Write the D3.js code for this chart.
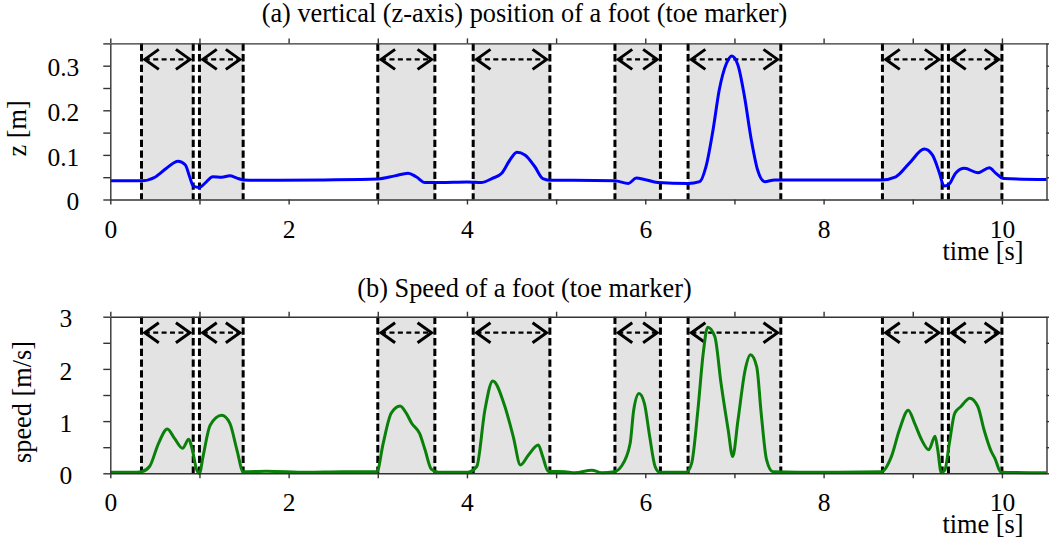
<!DOCTYPE html>
<html>
<head>
<meta charset="utf-8">
<script src="https://d3js.org/d3.v7.min.js"></script>
<style>
  body { margin: 0; background: #fff; }
  svg { display: block; font-family: 'Liberation Serif', 'Times New Roman', serif; }
</style>
</head>
<body>
<svg id="chart"></svg>
<script>
// stance / step intervals [s]
const segStart = [0.35, 1.0, 3.0, 4.07, 5.66, 6.48, 8.66, 9.40]
const segEnd = [0.93, 1.49, 3.64, 4.93, 6.17, 7.52, 9.33, 10.0]

// (a) z position of toe marker
const tTop = [0, 0.2, 0.35, 0.5, 0.63, 0.76, 0.84, 0.89, 0.93, 1.0, 1.06, 1.15, 1.25, 1.34, 1.42,
  1.49, 1.8, 2.4, 3.0, 3.19, 3.34, 3.43, 3.53, 3.7, 4.0, 4.16, 4.28, 4.39, 4.48, 4.56,
  4.65, 4.76, 4.85, 4.95, 5.2, 5.66, 5.81, 5.9, 5.99, 6.14, 6.48, 6.61, 6.68, 6.76, 6.83,
  6.91, 6.97, 7.04, 7.11, 7.19, 7.26, 7.34, 7.45, 8.0, 8.65, 8.81, 8.96, 9.13, 9.22, 9.3,
  9.35, 9.41, 9.48, 9.58, 9.73, 9.86, 9.93, 10.02, 10.5]
const zTop = [0.042, 0.042, 0.042, 0.05, 0.07, 0.086, 0.078, 0.051, 0.03, 0.027, 0.036, 0.051, 0.05, 0.053, 0.048,
  0.044, 0.043, 0.044, 0.046, 0.053, 0.059, 0.051, 0.038, 0.038, 0.039, 0.038, 0.047, 0.059, 0.088, 0.106,
  0.1, 0.074, 0.047, 0.043, 0.043, 0.042, 0.036, 0.048, 0.045, 0.038, 0.036, 0.04, 0.073, 0.156, 0.246,
  0.305, 0.322, 0.301, 0.234, 0.133, 0.066, 0.04, 0.044, 0.044, 0.044, 0.051, 0.081, 0.113, 0.1, 0.059,
  0.03, 0.035, 0.059, 0.07, 0.06, 0.071, 0.059, 0.047, 0.045]

// (b) speed of toe marker
const tBot = [0, 0.3, 0.35, 0.44, 0.54, 0.64, 0.72, 0.81, 0.88, 0.92, 0.97, 1.0, 1.04, 1.12, 1.25,
  1.34, 1.42, 1.49, 1.75, 2.2, 2.6, 2.99, 3.06, 3.15, 3.25, 3.32, 3.38, 3.47, 3.53, 3.6,
  3.68, 4.01, 4.11, 4.2, 4.29, 4.42, 4.52, 4.6, 4.69, 4.8, 4.85, 4.91, 5.1, 5.21, 5.4,
  5.51, 5.65, 5.73, 5.83, 5.87, 5.93, 5.99, 6.05, 6.11, 6.16, 6.46, 6.52, 6.59, 6.65, 6.7,
  6.78, 6.85, 6.93, 6.98, 7.04, 7.12, 7.18, 7.25, 7.3, 7.36, 7.43, 8.0, 8.65, 8.76, 8.85,
  8.95, 9.02, 9.1, 9.18, 9.25, 9.28, 9.32, 9.36, 9.41, 9.47, 9.54, 9.64, 9.73, 9.8, 9.88,
  9.92, 9.99, 10.5]
const vBot = [0.02, 0.02, 0.03, 0.13, 0.57, 0.85, 0.67, 0.48, 0.65, 0.45, 0.06, 0.0, 0.32, 0.92, 1.11,
  0.96, 0.45, 0.03, 0.04, 0.02, 0.03, 0.03, 0.57, 1.15, 1.29, 1.15, 0.96, 0.76, 0.45, 0.08,
  0.02, 0.02, 0.13, 1.2, 1.77, 1.31, 0.7, 0.16, 0.35, 0.54, 0.32, 0.04, 0.03, 0.01, 0.06,
  0.01, 0.03, 0.13, 0.57, 1.21, 1.53, 1.34, 0.7, 0.13, 0.02, 0.02, 0.19, 1.21, 2.3, 2.8,
  2.62, 1.72, 0.83, 0.32, 1.02, 1.98, 2.27, 2.04, 1.15, 0.26, 0.03, 0.02, 0.03, 0.32, 0.83,
  1.21, 0.96, 0.64, 0.45, 0.71, 0.45, 0.01, 0.06, 0.57, 1.15, 1.28, 1.44, 1.28, 0.83, 0.42,
  0.29, 0.02, 0.01]

// ticks
const xTicks = d3.range(0, 11, 1)
const xLabels = [0, 2, 4, 6, 8, 10]
const zTicks = [0, 0.05, 0.1, 0.15, 0.2, 0.25, 0.3, 0.35]
const zLabels = [0, 0.1, 0.2, 0.3]
const vTicks = [0, 0.5, 1, 1.5, 2, 2.5, 3]
const vLabels = [0, 1, 2, 3]

const w = 1049
const h = 549
const fontSize = 25.5
const titleSize = 26.3

const svg = d3.select('#chart')
  .attr('width', w)
  .attr('height', h)

const xScale = d3.scaleLinear()
  .domain([0, 10.5])
  .range([110.3, 1046.5])

const fmt = d => d === 0 ? '0' : String(d)

function drawPanel(p) {
  const g = svg.append('g')
  const y = d3.scaleLinear()
    .domain(p.yDomain)
    .range(p.yRange)
  const top = p.yRange[1]
  const bottom = p.yRange[0]

  // grey intervals
  g.selectAll('rect.seg')
    .data(segStart)
    .enter()
    .append('rect')
    .attr('class', 'seg')
    .attr('x', d => xScale(d))
    .attr('y', top)
    .attr('width', (d, i) => xScale(segEnd[i]) - xScale(d))
    .attr('height', bottom - top)
    .attr('fill', '#e3e3e3')

  // dashed boundaries
  const bounds = segStart.concat(segEnd)
  g.selectAll('line.bound')
    .data(bounds)
    .enter()
    .append('line')
    .attr('x1', d => xScale(d))
    .attr('x2', d => xScale(d))
    .attr('y1', top)
    .attr('y2', bottom)
    .attr('stroke', '#000')
    .attr('stroke-width', 3)
    .attr('stroke-dasharray', '7.3,3.4')

  // double arrows
  const ay = top + 16
  const inset = 3.3
  const aw = 14
  const ah = 10
  segStart.forEach((s, i) => {
    const x0 = xScale(s) + inset
    const x1 = xScale(segEnd[i]) - inset
    g.append('line')
      .attr('x1', x0).attr('x2', x1)
      .attr('y1', ay).attr('y2', ay)
      .attr('stroke', '#000')
      .attr('stroke-width', 2.2)
      .attr('stroke-dasharray', '5,3.4')
    g.append('path')
      .attr('d', `M${x0 + aw},${ay - ah}L${x0},${ay}L${x0 + aw},${ay + ah}`)
      .attr('fill', 'none')
      .attr('stroke', '#000')
      .attr('stroke-width', 3)
    g.append('path')
      .attr('d', `M${x1 - aw},${ay - ah}L${x1},${ay}L${x1 - aw},${ay + ah}`)
      .attr('fill', 'none')
      .attr('stroke', '#000')
      .attr('stroke-width', 3)
  })

  // data line
  const line = d3.line()
    .x((d, i) => xScale(p.tData[i]))
    .y(d => y(d))
    .curve(d3.curveMonotoneX)

  g.append('path')
    .datum(p.yData)
    .attr('d', line)
    .attr('fill', 'none')
    .attr('stroke', p.color)
    .attr('stroke-width', 3)

  // axes
  const xAxisB = d3.axisBottom(xScale)
    .tickValues(xTicks)
    .tickSize(5)
    .tickSizeOuter(0)
    .tickPadding(15)
    .tickFormat(d => xLabels.includes(d) ? fmt(d) : '')
  const xAxisT = d3.axisTop(xScale)
    .tickValues(xTicks)
    .tickSize(5)
    .tickSizeOuter(0)
    .tickFormat('')
  const yAxisL = d3.axisLeft(y)
    .tickValues(p.yTicks)
    .tickSize(7)
    .tickSizeOuter(0)
    .tickPadding(p.yPad)
    .tickFormat(d => p.yLabels.some(v => Math.abs(v - d) < 1e-9) ? fmt(d) : '')
  const yAxisR = d3.axisRight(y)
    .tickValues(p.yTicks)
    .tickSize(7)
    .tickSizeOuter(0)
    .tickFormat('')

  const axes = [
    g.append('g').attr('transform', `translate(0, ${bottom})`).call(xAxisB),
    g.append('g').attr('transform', `translate(0, ${top})`).call(xAxisT),
    g.append('g').attr('transform', `translate(${xScale.range()[0]}, 0)`).call(yAxisL),
    g.append('g').attr('transform', `translate(${xScale.range()[1]}, 0)`).call(yAxisR)
  ]
  axes.forEach(a => {
    a.selectAll('path, line')
      .attr('stroke', '#333')
      .attr('stroke-width', 1.4)
    a.selectAll('text')
      .attr('fill', '#000')
      .style('font-size', fontSize + 'px')
      .style('font-family', "'Liberation Serif', serif")
  })
  axes[2].selectAll('text').attr('dy', '0.4em')

  // titles
  g.append('text')
    .text(p.title)
    .attr('x', 524.5)
    .attr('y', p.titleY)
    .attr('text-anchor', 'middle')
    .style('font-size', titleSize + 'px')

  g.append('text')
    .text('time [s]')
    .attr('x', 983)
    .attr('y', bottom + 60)
    .attr('text-anchor', 'middle')
    .style('font-size', titleSize + 'px')

  g.append('text')
    .text(p.yTitle)
    .attr('transform', `translate(${p.yTitleX}, ${(top + bottom) / 2 + 7}) rotate(-90)`)
    .attr('text-anchor', 'middle')
    .style('font-size', titleSize + 'px')
}

drawPanel({
  yDomain: [0, 0.35],
  yRange: [199.5, 43.4],
  yTicks: zTicks,
  yLabels: zLabels,
  yPad: 24,
  tData: tTop,
  yData: zTop,
  color: '#0000ff',
  title: '(a) vertical (z-axis) position of a foot (toe marker)',
  titleY: 22,
  yTitle: 'z [m]',
  yTitleX: 26
})

drawPanel({
  yDomain: [0, 3],
  yRange: [473.3, 316.7],
  yTicks: vTicks,
  yLabels: vLabels,
  yPad: 31,
  tData: tBot,
  yData: vBot,
  color: '#0a800a',
  title: '(b) Speed of a foot (toe marker)',
  titleY: 297,
  yTitle: 'speed [m/s]',
  yTitleX: 31
})
</script>
</body>
</html>
